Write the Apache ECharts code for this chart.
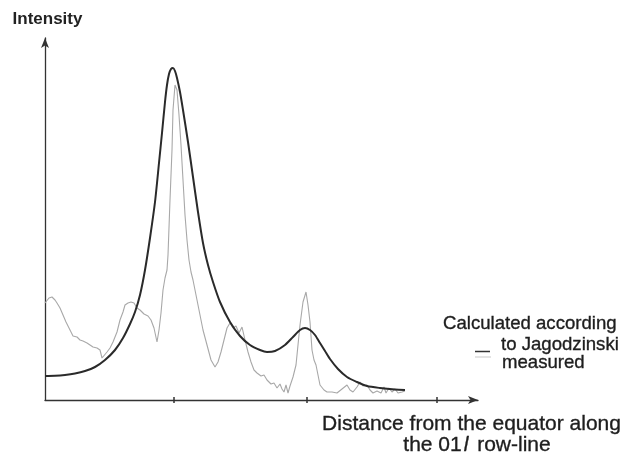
<!DOCTYPE html>
<html><head><meta charset="utf-8">
<script src="https://cdn.jsdelivr.net/npm/echarts@6/dist/echarts.min.js"></script>
<style>html,body{margin:0;padding:0;background:#fff}#c{width:631px;height:456px}</style>
</head><body><div id="c"></div>
<script>
// Values (arbitrary distance units, arbitrary intensity units)
const calculated = [[0,24],[10,24.2],[20,25],[30,26.5],[40,29],[50,33],[60,40],[70,50],[78,62],[85,76],[90,88],[95,105],[100,130],[105,162],[110,198],[114,237],[117,267],[120,298],[122,315],[124,326],[126,331],[128,332],[130,329],[132,322],[135,308],[138,290],[143,258],[148,223],[153,188],[158,157],[163,135],[168,118],[175,98],[185,78],[195,64],[205,55],[215,50],[222,48],[230,49],[240,55],[248,63],[255,70],[260,72],[265,70],[270,65],[275,57],[280,49],[285,41],[293,31],[302,23],[312,18],[322,14],[335,12],[350,10.5],[360,10]];
const measured = [[0,97],[4,102],[7,103],[10,100],[12,97],[15,92],[18,85],[21,78],[25,70],[28,64],[32,63],[35,60],[38,59],[42,57],[45,55],[48,53],[52,52],[55,50],[57,42],[59,43],[62,48],[65,52],[68,58],[72,68],[75,80],[78,88],[80,95],[83,97],[86,98],[89,97],[92,92],[95,90],[99,86],[103,84],[106,80],[109,72],[112,58],[114,70],[116,87],[118,110],[120,122],[122,130],[123,145],[125,200],[127,250],[128,290],[130,315],[132,310],[134,285],[136,255],[138,220],[140,185],[142,160],[144,140],[146,128],[148,120],[151,105],[155,85],[158,70],[162,55],[166,40],[170,33],[173,38],[176,48],[179,60],[182,72],[185,77],[188,72],[191,74],[194,67],[197,73],[200,60],[203,48],[206,38],[209,30],[212,27],[216,24],[219,25],[222,20],[226,16],[229,17],[232,12],[235,16],[237,11],[239,8],[241,15],[243,7],[245,14],[248,23],[251,35],[253,55],[255,75],[258,98],[261,108],[263,95],[265,78],[267,50],[269,40],[271,35],[273,25],[275,15],[279,10],[282,8],[287,8],[292,7],[297,11],[302,15],[305,10],[308,8],[312,13],[315,18],[318,14],[322,15],[325,10],[328,7],[332,9],[336,7],[339,13],[341,7],[344,12],[347,8],[350,11],[353,7],[357,8],[360,9]];
const xTicks = [129, 262, 392];
const xMax = 433, yMax = 362;
const yName = 'Intensity';
const xNameLines = ['Distance from the equator along', 'the 01{i|l} row-line'];
const legendLines = ['Calculated according', 'to Jagodzinski', 'measured'];

const FONT = '"Liberation Sans", Arial, sans-serif';
const TXT = '#1e1e1e';
const chart = echarts.init(document.getElementById('c'), null, {renderer: 'canvas'});
function txt(x, y, text, size, align, extra) {
  return Object.assign({type: 'text', x: x, y: y, style: Object.assign({
    text: text, font: size + 'px ' + FONT, fill: TXT, align: align, verticalAlign: 'middle',
    stroke: TXT, lineWidth: 0.35
  }, extra || {})});
}
chart.setOption({
  animation: false,
  grid: {left: 45, right: 153, top: 38, bottom: 56},
  xAxis: [{
    type: 'value', min: 0, max: xMax,
    axisLine: {show: true, symbol: ['none', 'arrow'], symbolSize: [6, 10], lineStyle: {color: '#333', width: 1.3}},
    axisTick: {show: true, customValues: xTicks, length: 3, lineStyle: {color: '#333', width: 1.5}},
    axisLabel: {show: false}, splitLine: {show: false}
  }, {
    type: 'value', min: 0, max: xMax, position: 'bottom',
    axisLine: {show: false},
    axisTick: {show: true, inside: true, customValues: xTicks, length: 3, lineStyle: {color: '#333', width: 1.5}},
    axisLabel: {show: false}, splitLine: {show: false}
  }],
  yAxis: {
    type: 'value', min: 0, max: yMax,
    name: yName, nameLocation: 'end', nameGap: 19,
    nameTextStyle: {fontFamily: FONT, fontSize: 17, fontWeight: 'bold', color: '#222', align: 'center', verticalAlign: 'middle', padding: [0, 0, 0, 5]},
    axisLine: {show: true, symbol: ['none', 'arrow'], symbolSize: [6, 10], lineStyle: {color: '#333', width: 1.3}},
    axisTick: {show: false}, axisLabel: {show: false}, splitLine: {show: false}
  },
  series: [{
    name: 'measured', type: 'line', data: measured, showSymbol: false,
    lineStyle: {color: '#a8a8a8', width: 1.1}, z: 2
  }, {
    name: 'calculated', type: 'line', data: calculated, showSymbol: false, smooth: 0.25,
    lineStyle: {color: '#2a2a2a', width: 2}, z: 3
  }],
  graphic: [
    txt(443, 324, legendLines[0], 18.6, 'left'),
    txt(501, 345, legendLines[1], 18.6, 'left'),
    txt(502, 363, legendLines[2], 18.6, 'left'),
    {type: 'line', shape: {x1: 475, y1: 351.5, x2: 490, y2: 351.5}, style: {stroke: '#333', lineWidth: 1.5}},
    {type: 'line', shape: {x1: 475, y1: 357, x2: 491, y2: 357}, style: {stroke: '#d0d0d0', lineWidth: 1.2}},
    txt(471.5, 424, xNameLines[0], 21, 'center'),
    txt(477, 445, xNameLines[1], 21, 'center', {rich: {i: {fontStyle: 'italic', fontSize: 21, fontFamily: FONT, fill: TXT, padding: [0, 3, 0, 2]}}})
  ]
});
</script></body></html>
